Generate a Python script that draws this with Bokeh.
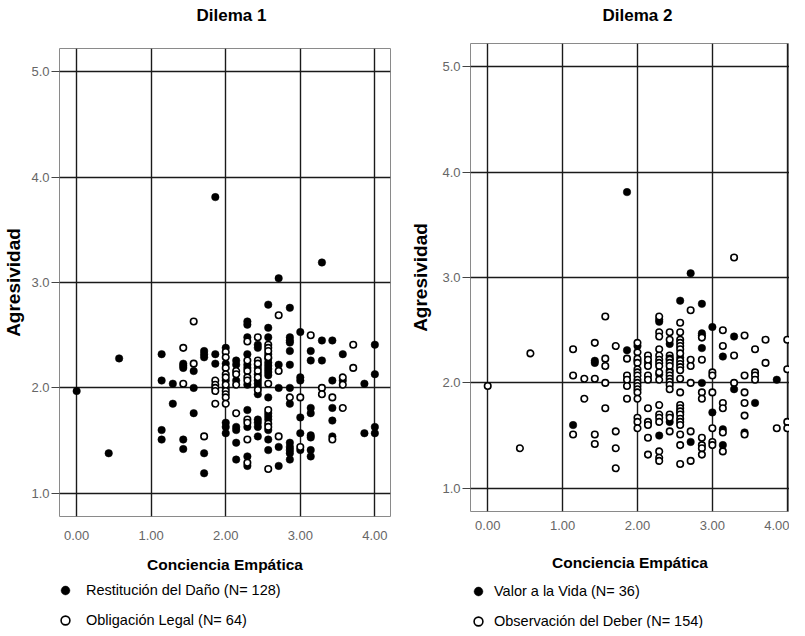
from bokeh.plotting import figure
from bokeh.models import Range1d, FixedTicker, PrintfTickFormatter, Legend, LegendItem
from bokeh.layouts import row, column
from bokeh.embed import file_html
from bokeh.resources import INLINE

NARROW = "'Liberation Sans Narrow', 'Arial Narrow', 'Liberation Sans', sans-serif"
REG = "'Liberation Sans', Arial, sans-serif"

# ---------------- data ----------------
x_ticks = [0, 1, 2, 3, 4]
y_ticks = [1, 2, 3, 4, 5]

# Dilema 1 - Restitución del Daño (filled)
d1_rest_x = [
    0.00, 0.43, 0.57,
    1.14, 1.14, 1.14, 1.14,
    1.29, 1.29,
    1.43, 1.43, 1.43, 1.43, 1.43,
    1.57, 1.57, 1.57,
    1.71, 1.71, 1.71, 1.71, 1.71,
    1.86, 1.86, 1.86,
    2.00, 2.00, 2.00, 2.00, 2.00, 2.00, 2.00,
    2.14, 2.14, 2.14, 2.14, 2.14, 2.14, 2.14,
    2.29, 2.29, 2.29, 2.29, 2.29, 2.29, 2.29, 2.29, 2.29, 2.29, 2.29,
    2.43, 2.43, 2.43, 2.43, 2.43, 2.43, 2.43, 2.43, 2.43, 2.43, 2.43, 2.43, 2.43,
    2.57, 2.57, 2.57, 2.57, 2.57, 2.57, 2.57, 2.57, 2.57, 2.57, 2.57, 2.57, 2.57, 2.57, 2.57, 2.57, 2.57,
    2.71, 2.71, 2.71, 2.71, 2.71,
    2.86, 2.86, 2.86, 2.86, 2.86, 2.86, 2.86, 2.86, 2.86, 2.86, 2.86, 2.86, 2.86,
    3.00, 3.00, 3.00, 3.00, 3.00, 3.00,
    3.14, 3.14, 3.14, 3.14, 3.14, 3.14, 3.14, 3.14,
    3.29, 3.29, 3.29,
    3.43, 3.43, 3.43, 3.43, 3.43,
    3.57, 3.57,
    3.86, 3.86,
    4.00, 4.00, 4.00, 4.00,
]
d1_rest_y = [
    1.97, 1.38, 2.28,
    2.32, 2.07, 1.60, 1.51,
    2.04, 1.85,
    2.23, 2.21, 2.19, 1.51, 1.42,
    2.16, 2.00, 1.76,
    2.35, 2.32, 2.29, 1.38, 1.19,
    3.81, 2.32, 2.23,
    2.38, 2.23, 2.07, 2.00, 1.67, 1.63, 1.57,
    2.26, 2.22, 2.07, 1.63, 1.60, 1.48, 1.32,
    2.63, 2.60, 2.48, 2.32, 2.22, 2.19, 2.03, 1.79, 1.63, 1.35, 1.26,
    2.41, 2.38, 2.22, 2.19, 2.13, 2.07, 2.04, 2.01, 1.94, 1.70, 1.67, 1.63, 1.54,
    2.79, 2.57, 2.48, 2.32, 2.28, 2.24, 2.21, 2.18, 2.15, 2.12, 1.91, 1.76, 1.73, 1.70, 1.60, 1.51, 1.41,
    3.04, 2.22, 2.00, 1.44, 1.26,
    2.76, 2.48, 2.45, 2.43, 2.35, 2.22, 2.00, 1.85, 1.48, 1.44, 1.41, 1.38, 1.32,
    2.53, 2.10, 2.07, 1.72, 1.57, 1.41,
    2.35, 2.26, 1.81, 1.76, 1.55, 1.53, 1.41, 1.35,
    3.19, 2.45, 2.26,
    2.45, 2.07, 1.81, 1.69, 1.54,
    2.32, 2.07,
    2.04, 1.57,
    2.41, 2.13, 1.63, 1.57,
]

# Dilema 1 - Obligación Legal (open)
d1_oblig_x = [
    1.43, 1.43,
    1.57, 1.57,
    1.71,
    1.86, 1.86, 1.86, 1.86, 1.86,
    2.00, 2.00, 2.00, 2.00, 2.00, 2.00, 2.00, 2.00, 2.00, 2.00,
    2.14, 2.14, 2.14, 2.14,
    2.29, 2.29, 2.29, 2.29, 2.29, 2.29, 2.29, 2.29, 2.29,
    2.43, 2.43, 2.43, 2.43, 2.43, 2.43,
    2.57, 2.57, 2.57, 2.57, 2.57, 2.57, 2.57, 2.57, 2.57,
    2.71, 2.71, 2.71,
    2.86,
    3.00, 3.00,
    3.14,
    3.29, 3.29,
    3.43, 3.43,
    3.57, 3.57, 3.57,
    3.71, 3.71,
]
d1_oblig_y = [
    2.38, 2.04,
    2.63, 2.23,
    1.54,
    2.07, 2.03, 2.00, 1.97, 1.85,
    2.34, 2.29, 2.19, 2.13, 2.10, 2.03, 1.97, 1.94, 1.91, 1.85,
    2.16, 2.13, 2.03, 1.76,
    2.44, 2.26, 2.16, 2.10, 2.07, 1.70, 1.67, 1.51, 1.29,
    2.48, 2.26, 2.23, 2.16, 2.10, 1.98,
    2.41, 2.38, 2.35, 2.29, 2.04, 1.79, 1.66, 1.63, 1.23,
    2.69, 2.16, 1.54,
    1.91,
    1.91, 1.44,
    2.50,
    2.00, 1.94,
    1.91, 1.51,
    2.10, 2.03, 1.81,
    2.41, 2.19,
]

# Dilema 2 - Valor a la Vida (filled)
d2_vida_x = [
    1.14,
    1.43, 1.43,
    1.86, 1.86,
    2.00, 2.00,
    2.14,
    2.29, 2.29, 2.29, 2.29,
    2.43, 2.43, 2.43, 2.43,
    2.57, 2.57, 2.57,
    2.71, 2.71,
    2.86, 2.86, 2.86, 2.86, 2.86,
    3.00, 3.00,
    3.14, 3.14, 3.14,
    3.29, 3.29,
    3.43,
    3.57,
    3.86,
]
d2_vida_y = [
    1.60,
    2.21, 2.19,
    3.81, 2.31,
    2.35, 2.21,
    2.19,
    2.60, 2.58, 2.08, 1.50,
    2.37, 2.12, 1.69, 1.63,
    2.78, 2.24, 1.72,
    3.04, 1.44,
    2.75, 2.47, 2.45, 2.33, 2.00,
    2.53, 1.72,
    2.25, 1.56, 1.41,
    2.44, 1.94,
    1.53,
    1.81,
    2.03,
]

# Dilema 2 - Observación del Deber (open)
d2_deber_x = [
    0.00, 0.43, 0.57,
    1.14, 1.14, 1.14,
    1.29, 1.29,
    1.43, 1.43, 1.43, 1.43,
    1.57, 1.57, 1.57, 1.57, 1.57,
    1.71, 1.71, 1.71, 1.71,
    1.86, 1.86, 1.86, 1.86, 1.86,
    2.00, 2.00, 2.00, 2.00, 2.00, 2.00, 2.00, 2.00, 2.00, 2.00, 2.00, 2.00, 2.00, 2.00, 2.00, 2.00,
    2.14, 2.14, 2.14, 2.14, 2.14, 2.14, 2.14, 2.14, 2.14, 2.14,
    2.29, 2.29, 2.29, 2.29, 2.29, 2.29, 2.29, 2.29, 2.29, 2.29, 2.29, 2.29, 2.29, 2.29, 2.29, 2.29, 2.29,
    2.43, 2.43, 2.43, 2.43, 2.43, 2.43, 2.43, 2.43, 2.43, 2.43, 2.43, 2.43, 2.43, 2.43, 2.43, 2.43,
    2.57, 2.57, 2.57, 2.57, 2.57, 2.57, 2.57, 2.57, 2.57, 2.57, 2.57, 2.57, 2.57, 2.57, 2.57, 2.57,
    2.57, 2.57, 2.57, 2.57, 2.57, 2.57, 2.57,
    2.71, 2.71, 2.71, 2.71, 2.71, 2.71,
    2.86, 2.86, 2.86, 2.86, 2.86, 2.86, 2.86, 2.86,
    3.00, 3.00, 3.00, 3.00, 3.00, 3.00,
    3.14, 3.14, 3.14, 3.14, 3.14, 3.14,
    3.29, 3.29, 3.29,
    3.43, 3.43, 3.43, 3.43, 3.43, 3.43,
    3.57, 3.57, 3.57, 3.57,
    3.71, 3.71,
    3.86,
    4.00, 4.00, 4.00, 4.00,
]
d2_deber_y = [
    1.97, 1.38, 2.28,
    2.32, 2.07, 1.51,
    2.04, 1.85,
    2.38, 2.04, 1.51, 1.42,
    2.63, 2.23, 2.16, 2.00, 1.76,
    2.35, 1.54, 1.38, 1.19,
    2.23, 2.07, 2.03, 1.97, 1.85,
    2.38, 2.29, 2.23, 2.19, 2.13, 2.10, 2.07, 2.03, 2.00, 1.97, 1.94, 1.91, 1.85, 1.67, 1.63, 1.57,
    2.26, 2.22, 2.16, 2.07, 2.03, 1.76, 1.63, 1.60, 1.48, 1.32,
    2.63, 2.48, 2.44, 2.32, 2.26, 2.22, 2.19, 2.16, 2.10, 2.03, 1.79, 1.70, 1.67, 1.63, 1.35, 1.29, 1.26,
    2.48, 2.41, 2.26, 2.23, 2.22, 2.19, 2.16, 2.10, 2.07, 2.04, 2.01, 1.98, 1.94, 1.70, 1.67, 1.54,
    2.57, 2.48, 2.41, 2.38, 2.35, 2.32, 2.28, 2.21, 2.18, 2.15, 2.12, 2.04, 1.91, 1.79, 1.76, 1.73,
    1.70, 1.66, 1.63, 1.60, 1.51, 1.41, 1.23,
    2.69, 2.22, 2.16, 2.00, 1.54, 1.26,
    2.43, 2.22, 1.91, 1.85, 1.48, 1.41, 1.38, 1.32,
    2.10, 2.07, 1.91, 1.57, 1.44, 1.41,
    2.50, 2.35, 1.81, 1.76, 1.53, 1.35,
    3.19, 2.26, 2.00,
    2.45, 2.07, 1.91, 1.81, 1.69, 1.51,
    2.32, 2.10, 2.07, 2.03,
    2.41, 2.19,
    1.57,
    2.41, 2.13, 1.63, 1.57,
]

FILLED = dict(marker="circle", fill_color="black", line_color="black", line_width=0.5)
HOLLOW = dict(marker="circle", fill_color="white", line_color="black", line_width=1.6)

MAIN_H = 577
LEG_H = 51


def make_panel(title, fx, fy, ox, oy, x_end, width, border_left, border_right,
               border_top, title_line_h, title_offset, ylab_standoff,
               xtick_standoff, xlab_standoff):
    p = figure(width=width, height=MAIN_H,
               x_range=Range1d(-0.23, x_end), y_range=Range1d(0.78, 5.22),
               output_backend="svg", toolbar_location=None, frame_align=False,
               min_border_left=border_left, min_border_right=border_right,
               min_border_top=border_top, min_border_bottom=MAIN_H - border_top - 468)
    # title with a blank second line, which lifts the visible line off the frame
    p.title.text = title + "\n\u00a0"
    p.title.align = "left"
    p.title.offset = title_offset
    p.title.vertical_align = "top"
    p.title.standoff = 0
    p.title.text_line_height = title_line_h
    p.title.text_font = NARROW
    p.title.text_font_style = "bold"
    p.title.text_font_size = "17px"
    p.title.text_color = "black"

    p.outline_line_color = "#8a8a8a"
    p.outline_line_width = 1
    p.background_fill_color = "white"
    p.border_fill_color = "white"

    for g in (p.xgrid, p.ygrid):
        g.grid_line_color = "#1a1a1a"
        g.grid_line_width = 1.4
    p.xgrid.ticker = FixedTicker(ticks=x_ticks)
    p.ygrid.ticker = FixedTicker(ticks=y_ticks)

    xa = p.xaxis[0]
    xa.ticker = FixedTicker(ticks=x_ticks)
    xa.formatter = PrintfTickFormatter(format="%.2f")
    xa.axis_line_color = None
    xa.major_tick_out = 0
    xa.major_tick_in = 0
    xa.minor_tick_line_color = None
    xa.major_label_standoff = xtick_standoff
    xa.major_label_text_font = REG
    xa.major_label_text_font_size = "13px"
    xa.major_label_text_color = "#666666"
    xa.axis_label = "Conciencia Empática"
    xa.axis_label_text_font = NARROW
    xa.axis_label_text_font_style = "bold"
    xa.axis_label_text_font_size = "15.5px"
    xa.axis_label_text_color = "black"
    xa.axis_label_standoff = xlab_standoff

    ya = p.yaxis[0]
    ya.ticker = FixedTicker(ticks=y_ticks)
    ya.formatter = PrintfTickFormatter(format="%.1f")
    ya.axis_line_color = None
    ya.major_tick_out = 8
    ya.major_tick_in = 0
    ya.major_tick_line_color = "#444444"
    ya.major_tick_line_width = 1.2
    ya.minor_tick_line_color = None
    ya.major_label_standoff = 2
    ya.major_label_text_font = REG
    ya.major_label_text_font_size = "13px"
    ya.major_label_text_color = "#666666"
    ya.axis_label = "Agresividad"
    ya.axis_label_text_font = NARROW
    ya.axis_label_text_font_style = "bold"
    ya.axis_label_text_font_size = "19px"
    ya.axis_label_text_color = "black"
    ya.axis_label_standoff = ylab_standoff

    p.scatter(fx, fy, size=7.5, **FILLED)
    p.scatter(ox, oy, size=6.5, **HOLLOW)
    return p


def make_legend(width, fx, fy, ox, oy, lab_f, lab_o, loc, standoff):
    # legend strip under a panel; its ranges keep the series' points out of view
    lf = figure(width=width, height=LEG_H, x_range=Range1d(-10, -9), y_range=Range1d(-10, -9),
                x_axis_type=None, y_axis_type=None, output_backend="svg",
                toolbar_location=None, min_border=0, frame_align=False)
    lf.title.text = ""
    lf.outline_line_color = None
    lf.grid.visible = False
    r_f = lf.scatter(fx, fy, size=7.5, **FILLED)
    r_o = lf.scatter(ox, oy, size=6.5, **HOLLOW)
    legend = Legend(items=[LegendItem(label=lab_f, renderers=[r_f]),
                           LegendItem(label=lab_o, renderers=[r_o])],
                    location=loc, orientation="vertical",
                    border_line_color=None, background_fill_alpha=0,
                    label_text_font=NARROW, label_text_font_size="14.5px",
                    label_text_color="black",
                    glyph_width=22, glyph_height=22, label_height=22,
                    spacing=8, padding=0, margin=0,
                    label_standoff=standoff)
    lf.add_layout(legend, "center")
    return lf


p1 = make_panel("Dilema 1", d1_rest_x, d1_rest_y, d1_oblig_x, d1_oblig_y,
                4.21, 407, 53, 17, 48, 1.14, 137, 4, 14, 13)
p2 = make_panel("Dilema 2", d2_vida_x, d2_vida_y, d2_deber_x, d2_deber_y,
                4.03, 382, 58, 0, 43, 0.9, 132, 8, 9, 21)
l1 = make_legend(407, d1_rest_x, d1_rest_y, d1_oblig_x, d1_oblig_y,
                 "Restitución del Daño (N= 128)", "Obligación Legal (N= 64)", (54, -3), 10)
l2 = make_legend(382, d2_vida_x, d2_vida_y, d2_deber_x, d2_deber_y,
                 "Valor a la Vida (N= 36)", "Observación del Deber (N= 154)", (60, -4), 5)

layout = row(column(p1, l1), column(p2, l2))

open("out.html", "w").write(file_html(layout, INLINE))
